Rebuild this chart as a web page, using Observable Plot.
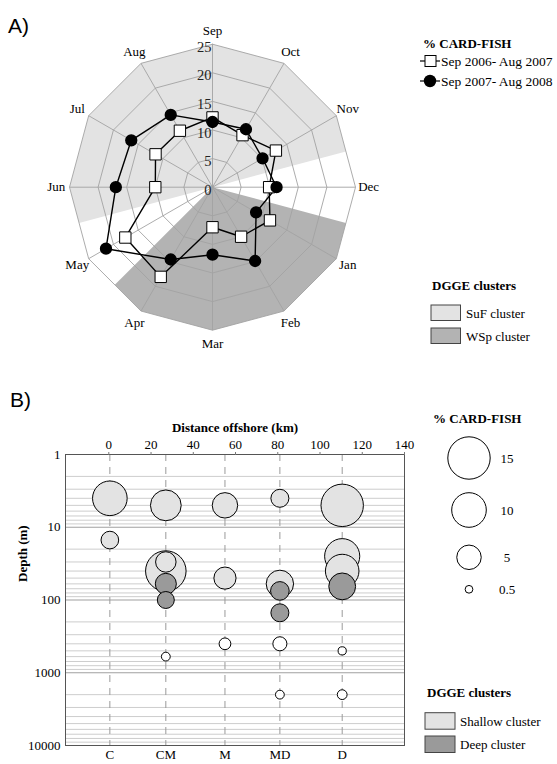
<!DOCTYPE html>
<html><head><meta charset="utf-8">
<script src="https://cdn.jsdelivr.net/npm/d3@7"></script>
<script src="https://cdn.jsdelivr.net/npm/@observablehq/plot@0.6"></script>
<style>
body{margin:0;background:#fff;}
#fig{position:relative;width:557px;height:764px;overflow:hidden;}
#fig > svg{position:absolute;}
#fig svg text{font-family:'Liberation Serif','Times New Roman',serif;}
</style></head><body><div id="fig"></div>
<script>
// ---------- Panel A data ----------
const months = ["Sep","Oct","Nov","Dec","Jan","Feb","Mar","Apr","May","Jun","Jul","Aug"];
const card0607 = [12.2, 10.5, 12.8, 9.9, 11.6, 10.0, 7.0, 18.1, 17.6, 10.0, 11.5, 11.4];
const card0708 = [11.4, 11.7, 10.1, 11.2, 8.8, 14.9, 11.8, 14.6, 21.5, 16.9, 16.4, 14.6];
const radarTicks = [0, 5, 10, 15, 20, 25];
const sufMonths = ["Jun","Jul","Aug","Sep","Oct","Nov"];
const wspMonths = ["Jan","Feb","Mar","Apr"];
const seriesNames = ["Sep 2006- Aug 2007", "Sep 2007- Aug 2008"];

// ---------- Panel B data ----------
const stations = ["C","CM","M","MD","D"];
const stationKm = [0.5, 27, 55, 81, 110.5];
const sampleStation = ["C","C","CM","CM","CM","CM","CM","CM","M","M","M","MD","MD","MD","MD","MD","MD","D","D","D","D","D","D"];
const sampleDepth   = [4, 15, 5, 40, 30, 60, 100, 600, 5, 50, 400, 4, 60, 75, 150, 400, 2000, 5, 25, 40, 65, 500, 2000];
const sampleCard    = [10.0, 2.6, 7.9, 13.7, 3.5, 3.7, 2.4, 0.65, 5.4, 4.1, 1.15, 2.7, 6.25, 2.9, 2.7, 1.65, 0.65, 15.0, 10.3, 9.4, 6.0, 0.56, 0.8];
const sampleCluster = ["Shallow","Shallow","Shallow","Shallow","Shallow","Deep","Deep","None","Shallow","Shallow","None","Shallow","Shallow","Deep","Deep","None","None","Shallow","Shallow","Shallow","Deep","None","None"];
const kmTicks = [0, 20, 40, 60, 80, 100, 120, 140];
const depthTicks = [1, 10, 100, 1000, 10000];
const sizeLegend = [15, 10, 5, 0.5];

const SERIF = "'Liberation Serif','Times New Roman',serif";
const SANS = "'Liberation Sans',Arial,sans-serif";
const LIGHT = "#e3e3e3", DARK_A = "#b3b3b3", DARK_B = "#9a9a9a", GRID = "#a3a3a3";

// ---------- Panel A geometry ----------
const R = 25;
const ang = i => Math.PI / 2 - i * Math.PI / 6;
const pt = (i, r) => ({x: r * Math.cos(ang(i)), y: r * Math.sin(ang(i))});
const mid = (i, j) => { const a = pt(i, R), b = pt(j, R); return {x: (a.x + b.x) / 2, y: (a.y + b.y) / 2}; };
function sector(list) {
  const s = months.indexOf(list[0]), n = list.length;
  const p = [{x: 0, y: 0}, mid(s - 1, s)];
  for (let k = 0; k < n; k++) p.push(pt(s + k, R));
  p.push(mid(s + n - 1, s + n), {x: 0, y: 0});
  return p;
}
const rings = radarTicks.filter(d => d > 0).flatMap(r => d3.range(13).map(i => ({r, ...pt(i, r)})));
const seriesRows = (vals, name) => vals.map((v, i) => ({month: months[i], v, series: name, ...pt(i, v)}));
const rows0607 = seriesRows(card0607, seriesNames[0]);
const rows0708 = seriesRows(card0708, seriesNames[1]);

const ppu = 5.72, cx = 212, cy = 186.7, WA = 410, HA = 365;
const plotA = Plot.plot({
  width: WA, height: HA, margin: 0,
  x: {domain: [-cx / ppu, (WA - cx) / ppu], axis: null},
  y: {domain: [-(HA - cy) / ppu, cy / ppu], axis: null},
  style: {fontFamily: SERIF, fontSize: "13px", background: "transparent", color: "black"},
  marks: [
    Plot.line(sector(sufMonths), {x: "x", y: "y", fill: LIGHT, stroke: "none"}),
    Plot.line(sector(wspMonths), {x: "x", y: "y", fill: DARK_A, stroke: "none"}),
    Plot.line(rings, {x: "x", y: "y", z: "r", stroke: GRID, strokeWidth: 0.9}),
    Plot.link(months, {x1: () => 0, y1: () => 0, x2: (d, i) => pt(i, R).x, y2: (d, i) => pt(i, R).y, stroke: GRID, strokeWidth: 0.9}),
    Plot.text(radarTicks, {x: () => 0, y: d => d, text: d => String(d), textAnchor: "end", dx: -1, dy: 3, fontSize: 14.5, fill: "#222", fontFamily: SERIF}),
    Plot.text(months, {x: (d, i) => pt(i, 27.3).x, y: (d, i) => pt(i, 27.3).y, text: d => d, fontSize: 13, fill: "black", fontFamily: SERIF}),
    Plot.line([...rows0607, rows0607[0]], {x: "x", y: "y", stroke: "black", strokeWidth: 1.4}),
    Plot.line([...rows0708, rows0708[0]], {x: "x", y: "y", stroke: "black", strokeWidth: 1.4}),
    Plot.dot(rows0607, {x: "x", y: "y", symbol: "square", r: 6.4, fill: "white", stroke: "black", strokeWidth: 1}),
    Plot.dot(rows0708, {x: "x", y: "y", r: 5.4, fill: "black", stroke: "black"})
  ]
});
plotA.style.left = "0px"; plotA.style.top = "0px";
document.getElementById("fig").appendChild(plotA);

// ---------- Panel B ----------
const samples = sampleStation.map((s, i) => ({
  station: s, km: stationKm[stations.indexOf(s)], depth: sampleDepth[i], card: sampleCard[i], cluster: sampleCluster[i]
}));
const minorGrid = depthTicks.slice(0, -1).flatMap(d => d3.range(2, 10).map(k => k * d));

const plotB = Plot.plot({
  width: 422, height: 359, marginTop: 49, marginBottom: 19, marginLeft: 65, marginRight: 18,
  x: {domain: [-20.5, 140]},
  y: {type: "log", domain: [1, 10000], reverse: true},
  r: {type: "sqrt", domain: [0, 15], range: [0, 21.2]},
  color: {domain: ["Shallow", "Deep", "None"], range: [LIGHT, DARK_B, "white"]},
  style: {fontFamily: SERIF, fontSize: "13px", background: "transparent", color: "black"},
  marks: [
    Plot.ruleY(minorGrid, {stroke: "#cdcdcd", strokeWidth: 1}),
    Plot.ruleY(depthTicks.slice(1, -1), {stroke: "#a0a0a0", strokeWidth: 1.2}),
    Plot.ruleX(stationKm, {stroke: "#9a9a9a", strokeDasharray: "7,6"}),
    Plot.dot(samples, {x: "km", y: "depth", r: "card", fill: "cluster", stroke: "black", strokeWidth: 1}),
    Plot.frame({stroke: "#555"}),
    Plot.axisX({anchor: "top", ticks: kmTicks, tickSize: 3, tickPadding: 3, label: null, fontSize: 13, fontFamily: SERIF, stroke: "#777"}),
    Plot.axisY({ticks: depthTicks, tickFormat: d => String(d), tickSize: 0, tickPadding: 5, label: null, fontSize: 13, fontFamily: SERIF}),
    Plot.text(stations, {x: (d, i) => stationKm[i], frameAnchor: "bottom", dy: 13, fontSize: 13, fontFamily: SERIF}),
    Plot.text(["Distance offshore (km)"], {frameAnchor: "top", dy: -32, fontWeight: "bold", fontSize: 13, fontFamily: SERIF}),
    Plot.text(["Depth (m)"], {frameAnchor: "left", dx: -43, dy: -18, rotate: -90, fontWeight: "bold", fontSize: 13, fontFamily: SERIF})
  ]
});
plotB.style.left = "0px"; plotB.style.top = "405px";
document.getElementById("fig").appendChild(plotB);

// ---------- Legends & panel letters ----------
const ov = d3.select("#fig").append("svg")
  .attr("width", 557).attr("height", 764)
  .style("left", "0px").style("top", "0px")
  .attr("font-size", 13);

ov.append("text").attr("x", 8).attr("y", 33).style("font-family", SANS).attr("font-size", 21).text("A)");
ov.append("text").attr("x", 10).attr("y", 407).style("font-family", SANS).attr("font-size", 21).text("B)");

// Legend A: series
ov.append("text").attr("x", 423).attr("y", 47.5).attr("font-weight", "bold").text("% CARD-FISH");
[[61, "square"], [81, "circle"]].forEach(([y, sym], k) => {
  ov.append("line").attr("x1", 420).attr("x2", 440).attr("y1", y).attr("y2", y).attr("stroke", "black").attr("stroke-width", 1.2);
  if (sym === "square") ov.append("rect").attr("x", 425).attr("y", y - 5.5).attr("width", 11).attr("height", 11).attr("fill", "white").attr("stroke", "black");
  else ov.append("circle").attr("cx", 430).attr("cy", y).attr("r", 6.2).attr("fill", "black");
  ov.append("text").attr("x", 441).attr("y", y + 4.5).attr("font-size", 13.5).text(seriesNames[k]);
});
// Legend A: clusters
ov.append("text").attr("x", 432).attr("y", 290).attr("font-weight", "bold").text("DGGE clusters");
[[305, LIGHT, "SuF cluster"], [328, DARK_A, "WSp cluster"]].forEach(([y, c, t]) => {
  ov.append("rect").attr("x", 431).attr("y", y).attr("width", 29.5).attr("height", 15.5).attr("fill", c).attr("stroke", "#444");
  ov.append("text").attr("x", 466).attr("y", y + 12.5).text(t);
});

// Legend B: sizes
ov.append("text").attr("x", 433).attr("y", 422.5).attr("font-weight", "bold").text("% CARD-FISH");
const rScale = plotB.scale("r");
const legY = [458, 510, 557.3, 589.3];
sizeLegend.forEach((v, k) => {
  ov.append("circle").attr("cx", 469).attr("cy", legY[k]).attr("r", rScale.apply(v)).attr("fill", "white").attr("stroke", "black");
  ov.append("text").attr("x", 507).attr("y", legY[k] + 4.5).attr("text-anchor", "middle").text(String(v));
});
// Legend B: clusters
ov.append("text").attr("x", 427).attr("y", 697).attr("font-weight", "bold").text("DGGE clusters");
[[712.7, LIGHT, "Shallow cluster"], [736, DARK_B, "Deep cluster"]].forEach(([y, c, t]) => {
  ov.append("rect").attr("x", 425).attr("y", y).attr("width", 30).attr("height", 16.5).attr("fill", c).attr("stroke", "#444");
  ov.append("text").attr("x", 460).attr("y", y + 13).text(t);
});
</script>
</body></html>
